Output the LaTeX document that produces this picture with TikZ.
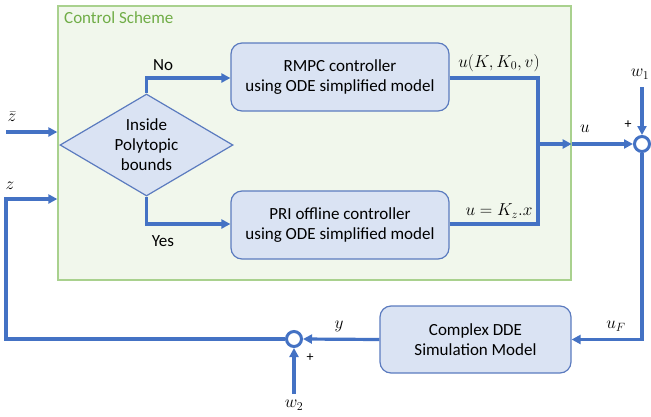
\documentclass[tikz,border=0pt]{standalone}
\usepackage{fontspec}
\setmainfont{Carlito}
\usetikzlibrary{shapes.geometric,arrows.meta}
\definecolor{lblue}{HTML}{4472C4}
\definecolor{bfill}{HTML}{DAE3F3}
\definecolor{bdraw}{HTML}{5B7BBF}
\definecolor{gfill}{HTML}{F1F7EC}
\definecolor{gdraw}{HTML}{A9D18E}
\definecolor{gtext}{HTML}{70AD47}
\begin{document}
\begin{tikzpicture}[x=1pt,y=-1pt,
  font=\fontsize{17}{20}\selectfont,
  blk/.style={draw=bdraw,fill=bfill,line width=1.2pt,rounded corners=11pt,align=center},
  con/.style={draw=lblue,line width=3.2pt},
  arr/.style={con,-{Triangle[length=9pt,width=9pt]}},
  sumc/.style={circle,draw=lblue,line width=3pt,fill=white,minimum size=15pt,inner sep=0pt},
  lbl/.style={inner sep=1pt}]
\useasboundingbox (0,0) rectangle (651,416);
% green container
\node[draw=gdraw,fill=gfill,line width=1.3pt,minimum width=513pt,minimum height=274pt,inner sep=0pt] (cs) at (314.5,143) {};
\node[anchor=north west,text=gtext,lbl] (cst) at (63,10) {Control Scheme};
% diamond
\node[diamond,draw=bdraw,fill=bfill,line width=1.2pt,minimum width=173pt,minimum height=102pt,inner sep=0pt,align=center,aspect=1.7] (dec) at (146.5,145) {Inside\\Polytopic\\bounds};
% boxes
\node[blk,minimum width=218pt,minimum height=68pt] (rmpc) at (340,77) {RMPC controller\\using ODE simplified model};
\node[blk,minimum width=218pt,minimum height=68pt] (pri) at (340,225) {PRI offline controller\\using ODE simplified model};
\node[blk,minimum width=191pt,minimum height=67pt] (dde) at (475.5,339.5) {Complex DDE\\Simulation Model};
% sums
\node[sumc] (s1) at (642,144) {};
\node[sumc] (s2) at (294,339) {};
% coordinates
\coordinate (j) at (538,144);
\coordinate (zbin) at (6,132);
\coordinate (w1) at (642,87);
\coordinate (w2) at (294,394);
% connectors
\draw[arr] (dec.north) |- (rmpc.west |- 0,78);
\draw[arr] (dec.south) |- (pri.west |- 0,224);
\draw[con] (rmpc.east |- 0,78) -| (j);
\draw[con] (pri.east |- 0,224) -| (j);
\draw[arr] (j) -- (cs.east |- j);
\draw[arr] (cs.east |- j) -- (s1.west);
\draw[arr] (w1) -- (s1.north);
\draw[arr] (s1.south) |- (dde.east);
\draw[arr] (dde.west) -- (s2.east);
\draw[arr] (w2) -- (s2.south);
\draw[arr] (s2.west) -| (6,199) -- (cs.west |- 0,199);
\draw[arr] (zbin) -- (cs.west |- zbin);
% labels
\node[lbl] (lno) at (163,65) {No};
\node[lbl] (lyes) at (163,241) {Yes};
\node[lbl] (lu1) at (499,63) {$u(K,K_0,v)$};
\node[lbl] (lu2) at (499,211) {$u=K_z.x$};
\node[lbl] (lu) at (585,129) {$u$};
\node[lbl] (lw1) at (640,74) {$w_1$};
\node[lbl,font=\fontsize{14}{15}\selectfont] (lp1) at (628,125) {+};
\node[lbl] (luf) at (616,326) {$u_F$};
\node[lbl] (ly) at (339,326) {$y$};
\node[lbl] (lw2) at (294,405) {$w_2$};
\node[lbl,font=\fontsize{14}{15}\selectfont] (lp2) at (310,358) {+};
\node[lbl] (lz) at (10,186) {$z$};
\node[lbl] (lzb) at (12,117) {$\bar z$};
\end{tikzpicture}
\end{document}
